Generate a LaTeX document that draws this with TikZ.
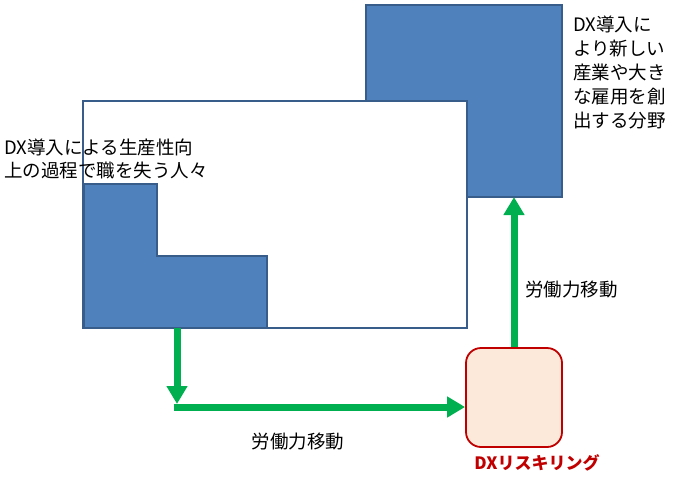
\documentclass[tikz,border=0pt]{standalone}
\usepackage{fontspec}
\setmainfont{Noto Sans CJK JP}
\usetikzlibrary{arrows.meta}
\definecolor{boxblue}{HTML}{4F81BD}
\definecolor{boxedge}{HTML}{385D8A}
\definecolor{flowgreen}{HTML}{00B050}
\definecolor{skillfill}{HTML}{FDE9D9}
\definecolor{skilledge}{HTML}{C00000}
\tikzset{
  lshape/.style={fill=boxblue, draw=boxedge, line width=1.5pt},
  frame/.style={fill=white, draw=boxedge, line width=1.2pt},
  flow/.style={draw=flowgreen, line width=7pt, -{Triangle[length=18pt,width=20pt]}},
  lbl/.style={inner sep=0pt, font=\fontsize{18.5}{24}\selectfont},
}
\begin{document}
\begin{tikzpicture}[x=1pt,y=-1pt]
\useasboundingbox (0,0) rectangle (674,477);
% top-right L shape
\draw[lshape] (366,5) -- (562,5) -- (562,197) -- (466,197) -- (466,101) -- (366,101) -- cycle;
% white frame
\draw[frame] (83,101) rectangle (467,328);
% bottom-left L shape
\draw[lshape] (84,184) -- (157,184) -- (157,256) -- (267,256) -- (267,328) -- (84,328) -- cycle;
% texts
\node[lbl, anchor=west, align=left, font=\fontsize{18.5}{23}\selectfont] (lost) at (4,158.5) {DX導入による生産性向\\上の過程で職を失う人々};
\node[lbl, anchor=west, align=left] (newjobs) at (573,72.5) {DX導入に\\より新しい\\産業や大き\\な雇用を創\\出する分野};
% reskilling box
\node[draw=skilledge, fill=skillfill, line width=1.8pt, rounded corners=15pt, minimum width=96pt, minimum height=99pt, inner sep=0pt] (reskill) at (514,397.5) {};
\node[inner sep=0pt, text=skilledge, font=\fontsize{17}{20}\selectfont\bfseries] (reskilllbl) at (537,463) {DXリスキリング};
% arrows
\coordinate (a0) at (177,328);
\coordinate (a1) at (177,407);
\coordinate (a2) at (177,404);
\coordinate (up) at (514,197);
\draw[flow] (a0) -- (a2);
\draw[flow, shorten <=-3.5pt] (a1) -- (a1 -| reskill.west);
\draw[flow] (reskill.north -| up) -- (up);
\node[lbl] (move1) at (298,442) {労働力移動};
\node[lbl, anchor=west] (move2) at (525,290) {労働力移動};
\end{tikzpicture}
\end{document}
